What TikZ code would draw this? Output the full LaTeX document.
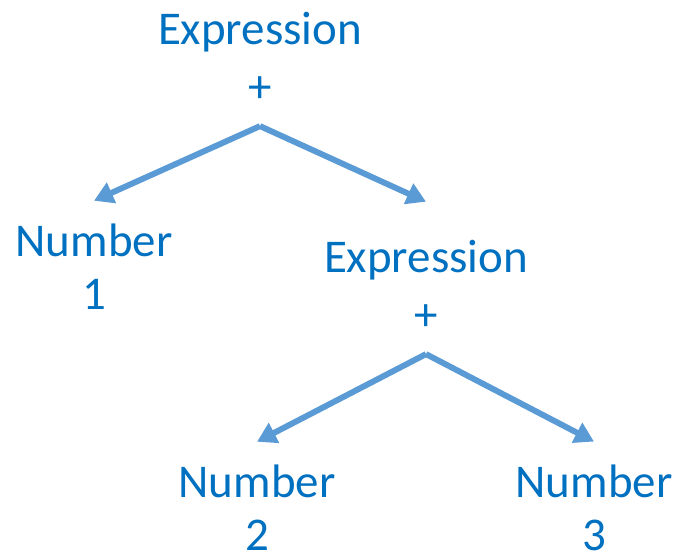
\documentclass[tikz,border=0pt]{standalone}
\usepackage{fontspec}
\setmainfont{Carlito}
\usetikzlibrary{arrows.meta}
\definecolor{textblue}{HTML}{0070C0}
\definecolor{arrowblue}{HTML}{5B9BD5}
\begin{document}
\begin{tikzpicture}[
      grow=down,
      linet/.style={line width=4.2pt, draw=arrowblue,
        -{Triangle[length=0.48cm,width=0.54cm]}},
      punkt/.style={align=center, text=textblue, inner xsep=2pt,
        inner ysep=0.58cm,
        font=\fontsize{33.4}{37.7}\selectfont}
    ]
    \useasboundingbox (0,0) rectangle (16.9,-13.825);
    \path (6.5,-1.4375)   node(e1) [punkt] {Expression\\[3.5pt]+}
    (2.35,-6.675)  node(n1) [punkt] {Number\\1}
    (10.65,-7.1375) node(e2) [punkt] {Expression\\[3.5pt]+}
    (6.425,-12.7) node(n2) [punkt] {Number\\2}
    (14.85,-12.7) node(n3) [punkt] {Number\\3};
    \draw[linet] (e1.south) -- (n1.north);
    \draw[linet] (e1.south) -- ([yshift=0.38cm]e2.north);
    \draw[linet] (e2.south) -- (n2.north);
    \draw[linet] (e2.south) -- (n3.north);
  \end{tikzpicture}
\end{document}
